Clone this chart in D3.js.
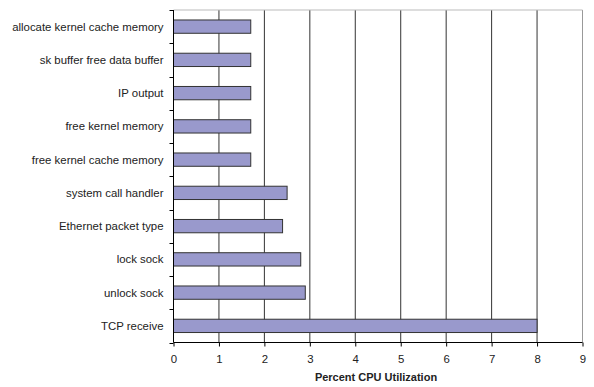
<!DOCTYPE html>
<html><head><meta charset="utf-8">
<script src="https://cdn.jsdelivr.net/npm/d3@7"></script>
<style>body{margin:0;background:#fff;} text{font-family:"Liberation Sans",Arial,sans-serif;}</style>
</head><body><svg id="c" width="594" height="387"></svg>
<script>
const categories = ["allocate kernel cache memory","sk buffer free data buffer","IP output","free kernel memory","free kernel cache memory","system call handler","Ethernet packet type","lock sock","unlock sock","TCP receive"];
const values = [1.7,1.7,1.7,1.7,1.7,2.5,2.4,2.8,2.9,8.0];
const xTicks = [0,1,2,3,4,5,6,7,8,9];
const xTitle = "Percent CPU Utilization";

const svg = d3.select("#c");
const L = 173.5, R = 582.5, T = 10, B = 342.5;
const x = d3.scaleLinear().domain([0,9]).range([L,R]);
const y = d3.scaleBand().domain(categories).range([T,B]).paddingInner(0.6).paddingOuter(0.3);

// grid
svg.append("g").selectAll("line").data(xTicks.slice(1)).join("line")
  .attr("x1",d=>x(d)).attr("x2",d=>x(d)).attr("y1",T).attr("y2",B)
  .attr("stroke",(d,i)=>d===9?"#999":"#333").attr("stroke-width",1);
svg.append("line").attr("x1",L).attr("x2",R).attr("y1",T).attr("y2",T).attr("stroke","#bbb");

// bars
svg.append("g").selectAll("rect").data(values).join("rect")
  .attr("x",x(0)).attr("y",(d,i)=>y(categories[i]))
  .attr("width",d=>x(d)-x(0)).attr("height",y.bandwidth())
  .attr("fill","#9999cc").attr("stroke","#333").attr("stroke-width",1);

// left axis
const step = (B-T)/categories.length;
const bounds = d3.range(categories.length+1).map(i=>T+i*step);
svg.append("line").attr("x1",L).attr("x2",L).attr("y1",T).attr("y2",B).attr("stroke","#000");
svg.append("g").selectAll("line").data(bounds).join("line")
  .attr("x1",L-4).attr("x2",L).attr("y1",d=>Math.round(d)+0.5).attr("y2",d=>Math.round(d)+0.5).attr("stroke","#000");
svg.append("g").selectAll("text").data(categories).join("text")
  .attr("x",L-10).attr("y",d=>y(d)+y.bandwidth()/2).attr("dy","0.35em")
  .attr("text-anchor","end").attr("font-size",11.4).attr("fill","#222").text(d=>d);

// bottom axis
const xAxis = d3.axisBottom(x).tickValues(xTicks).tickSize(4).tickPadding(8).tickFormat(d3.format("d"));
const ga = svg.append("g").attr("transform",`translate(0,${B})`).call(xAxis);
ga.select(".domain").attr("d",`M${L},0H${R}`).attr("stroke","#000");
ga.selectAll("text").attr("font-size",11.4).attr("fill","#222").attr("font-family","Liberation Sans, Arial, sans-serif");

svg.append("text").attr("x",(L+R)/2-2).attr("y",381).attr("text-anchor","middle")
  .attr("font-size",11).attr("font-weight","bold").attr("fill","#222").text(xTitle);
</script></body></html>
